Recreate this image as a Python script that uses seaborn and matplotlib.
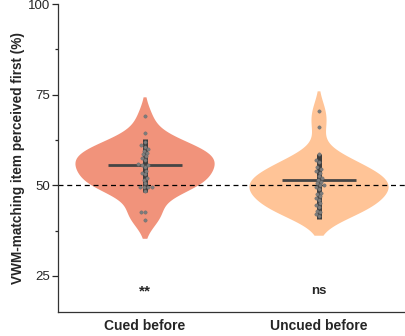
import matplotlib
matplotlib.use("Agg")
import numpy as np
import pandas as pd
import matplotlib.pyplot as plt
import seaborn as sns
from matplotlib.ticker import MultipleLocator

# ── Data ──────────────────────────────────────────────────────────────────────
conditions = ["Cued before", "Uncued before"]
cued = [69, 64.5, 62, 61, 60.5, 60, 59.5, 59, 58.5, 58, 57.5, 57, 56, 55.5, 55.5,
        55, 54, 53.5, 53, 52, 51.5, 50.5, 49.5, 49.5, 49.5, 49.5, 48.5, 42.5, 42.5, 40.5]
uncued = [70.5, 66, 58.5, 57, 56.5, 55, 54.5, 54, 53.5, 52.5, 52, 51.5, 51, 50.5, 50,
          50, 49.5, 49, 48, 47.5, 47, 46.5, 46, 45, 44.5, 44, 43, 42.5, 42, 41.5]
centre = [55.5, 51.4]          # horizontal bar
spread_low = [48.2, 40.8]      # thick vertical bar
spread_high = [62.9, 58.7]
sig_labels = ["**", "ns"]
chance = 50

palette = ["#F1937B", "#FFC497"]

df = pd.DataFrame({
    "cond": [conditions[0]] * len(cued) + [conditions[1]] * len(uncued),
    "value": cued + uncued,
})

sns.set_style("ticks")
plt.rcParams["font.family"] = ["Liberation Sans", "DejaVu Sans"]

fig = plt.figure(figsize=(4.06, 3.36), dpi=100)
ax = fig.add_axes([0.143, 0.071, 0.857, 0.917])

sns.violinplot(data=df, x="cond", y="value", hue="cond", palette=palette,
               saturation=1, inner=None, linewidth=0, density_norm="width",
               width=0.8, cut=1.6, legend=False, ax=ax)
for coll in ax.collections:
    coll.set_edgecolor("none")

ax.axhline(chance, color="black", lw=0.9, ls=(0, (4, 3)), zorder=2)

for i in range(len(conditions)):
    ax.vlines(i, spread_low[i], spread_high[i], color="#3d3d3d", lw=3.6, zorder=3)
    ax.hlines(centre[i], i - 0.215, i + 0.215, color="#454545", lw=2.0, zorder=3)
    ax.text(i, 20.8, sig_labels[i], ha="center", va="center",
            fontsize=11 if sig_labels[i] == "**" else 9.5, fontweight="bold")

sns.swarmplot(data=df, x="cond", y="value", color="#7d7d7d", size=2.4,
              edgecolor="#6a6a6a", linewidth=0.3, ax=ax, zorder=4)

ax.set_xlim(-0.5, 1.5)
ax.set_ylim(15, 100)
ax.set_yticks([25, 50, 75, 100])
ax.yaxis.set_minor_locator(MultipleLocator(12.5))
ax.tick_params(axis="y", which="major", length=4, width=0.9, labelsize=9.5, pad=2)
ax.tick_params(axis="y", which="minor", length=2.5, width=0.9)
ax.tick_params(axis="x", length=0, labelsize=10, pad=5)
for lbl in ax.get_xticklabels():
    lbl.set_fontweight("bold")
ax.set_xlabel("")
ax.set_ylabel("VWM-matching item perceived first (%)", fontsize=9.8,
              fontweight="bold", labelpad=1.5)

sns.despine(ax=ax)
for side in ["left", "bottom"]:
    ax.spines[side].set_linewidth(0.9)
    ax.spines[side].set_color("#333333")

fig.savefig("out.png", dpi=100)
